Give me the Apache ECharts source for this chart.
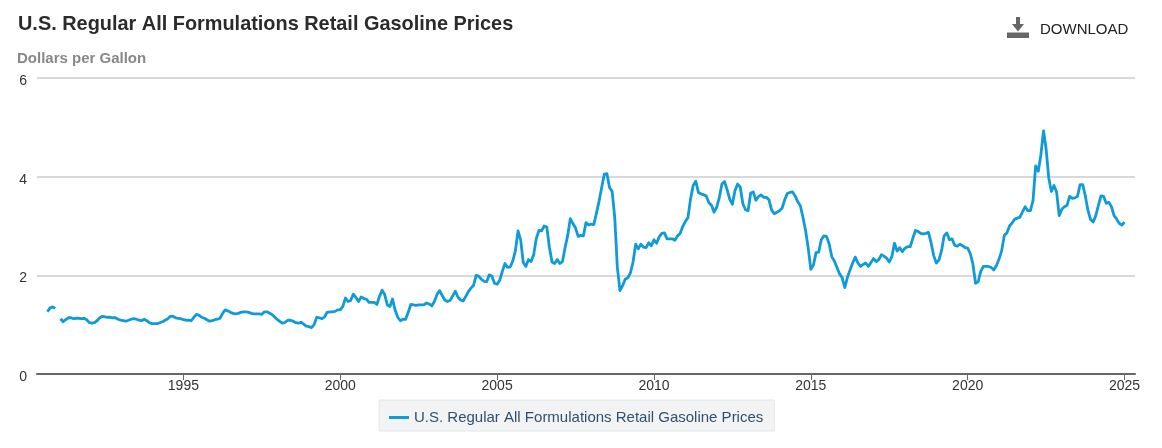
<!DOCTYPE html>
<html>
<head>
<meta charset="utf-8">
<title>U.S. Regular All Formulations Retail Gasoline Prices</title>
<script src="https://cdn.jsdelivr.net/npm/echarts@6/dist/echarts.min.js"></script>
<style>
  html, body { margin: 0; padding: 0; background: #fff; }
  #chart { width: 1162px; height: 448px; }
</style>
</head>
<body>
<div id="chart"></div>
<script>
var seriesName = 'U.S. Regular All Formulations Retail Gasoline Prices';
var unitLabel = 'Dollars per Gallon';
var yTicks = [0, 2, 4, 6];
var tickYears = ['1995', '2000', '2005', '2010', '2015', '2020', '2025'];

// monthly, first row starts at May 1990, last row runs out to May 2025
var prices = [
  null, null, null, null, 1.26, 1.34, 1.36, 1.33,
  null, 1.12, 1.06, 1.10, 1.14, 1.14, 1.12, 1.13, 1.13, 1.12, 1.13, 1.10,
  1.04, 1.03, 1.04, 1.08, 1.14, 1.17, 1.16, 1.15, 1.15, 1.14, 1.14, 1.11,
  1.09, 1.08, 1.07, 1.09, 1.11, 1.12, 1.11, 1.09, 1.08, 1.11, 1.08, 1.04,
  1.02, 1.02, 1.02, 1.04, 1.06, 1.09, 1.12, 1.17, 1.17, 1.14, 1.13, 1.12,
  1.10, 1.09, 1.09, 1.08, 1.15, 1.21, 1.19, 1.15, 1.13, 1.10, 1.07, 1.08,
  1.10, 1.11, 1.13, 1.23, 1.30, 1.28, 1.25, 1.23, 1.22, 1.23, 1.25, 1.26,
  1.26, 1.25, 1.23, 1.22, 1.22, 1.22, 1.21, 1.26, 1.26, 1.23, 1.20, 1.15,
  1.10, 1.06, 1.03, 1.05, 1.09, 1.09, 1.07, 1.04, 1.03, 1.05, 1.01, 0.97,
  0.96, 0.94, 1.00, 1.15, 1.14, 1.12, 1.16, 1.25, 1.26, 1.26, 1.27, 1.30,
  1.30, 1.37, 1.54, 1.47, 1.49, 1.62, 1.55, 1.47, 1.56, 1.53, 1.52, 1.45,
  1.45, 1.45, 1.41, 1.57, 1.70, 1.61, 1.40, 1.37, 1.52, 1.29, 1.15, 1.08,
  1.11, 1.11, 1.25, 1.41, 1.40, 1.39, 1.40, 1.40, 1.40, 1.44, 1.42, 1.38,
  1.47, 1.61, 1.69, 1.59, 1.50, 1.47, 1.49, 1.58, 1.68, 1.56, 1.50, 1.48,
  1.57, 1.67, 1.74, 1.80, 2.00, 1.98, 1.92, 1.88, 1.87, 2.01, 1.98, 1.84,
  1.82, 1.90, 2.08, 2.24, 2.16, 2.17, 2.29, 2.50, 2.90, 2.72, 2.26, 2.18,
  2.32, 2.28, 2.42, 2.75, 2.91, 2.90, 3.00, 2.98, 2.57, 2.27, 2.24, 2.32,
  2.24, 2.28, 2.56, 2.81, 3.15, 3.05, 2.96, 2.79, 2.81, 2.80, 3.07, 3.02,
  3.04, 3.03, 3.26, 3.50, 3.78, 4.05, 4.06, 3.78, 3.70, 3.17, 2.15, 1.69,
  1.79, 1.92, 1.95, 2.05, 2.27, 2.63, 2.54, 2.63, 2.57, 2.56, 2.66, 2.60,
  2.72, 2.65, 2.78, 2.85, 2.86, 2.74, 2.74, 2.74, 2.71, 2.80, 2.85, 2.99,
  3.09, 3.17, 3.55, 3.82, 3.91, 3.68, 3.65, 3.63, 3.61, 3.47, 3.42, 3.28,
  3.38, 3.58, 3.85, 3.90, 3.73, 3.54, 3.44, 3.72, 3.85, 3.79, 3.45, 3.33,
  3.31, 3.67, 3.69, 3.52, 3.60, 3.63, 3.58, 3.58, 3.53, 3.32, 3.25, 3.28,
  3.31, 3.36, 3.53, 3.66, 3.68, 3.69, 3.61, 3.49, 3.41, 3.17, 2.91, 2.55,
  2.12, 2.21, 2.46, 2.47, 2.72, 2.80, 2.79, 2.64, 2.38, 2.29, 2.16, 2.03,
  1.95, 1.75, 1.96, 2.11, 2.25, 2.37, 2.25, 2.18, 2.22, 2.25, 2.18, 2.26,
  2.34, 2.28, 2.32, 2.42, 2.39, 2.35, 2.27, 2.38, 2.65, 2.49, 2.56, 2.48,
  2.55, 2.58, 2.58, 2.75, 2.91, 2.89, 2.85, 2.84, 2.85, 2.87, 2.66, 2.40,
  2.25, 2.31, 2.50, 2.80, 2.86, 2.72, 2.74, 2.61, 2.59, 2.63, 2.60, 2.56,
  2.55, 2.44, 2.23, 1.84, 1.87, 2.08, 2.18, 2.18, 2.18, 2.16, 2.11, 2.20,
  2.33, 2.50, 2.81, 2.86, 3.00, 3.06, 3.14, 3.16, 3.18, 3.29, 3.39, 3.31,
  3.31, 3.52, 4.22, 4.11, 4.44, 4.93, 4.56, 3.98, 3.70, 3.82, 3.69, 3.21,
  3.34, 3.39, 3.42, 3.60, 3.56, 3.57, 3.60, 3.84, 3.84, 3.61, 3.32, 3.13,
  3.08, 3.21, 3.42, 3.61, 3.60, 3.46, 3.48, 3.39, 3.21, 3.14, 3.05, 3.02,
  3.08, null, null, null, null
];

var months = [];
for (var i = 0; i < prices.length; i++) {
  var m = 4 + i; // May 1990 = month index 4
  var mm = (m % 12) + 1;
  months.push((1990 + Math.floor(m / 12)) + '-' + (mm < 10 ? '0' + mm : mm));
}

function isTick(index, value) {
  return tickYears.indexOf(value.slice(0, 4)) > -1 && value.slice(5) === '01';
}

var font = '"Liberation Sans", Arial, sans-serif';
var chart = echarts.init(document.getElementById('chart'));
chart.setOption({
  animation: false,
  textStyle: { fontFamily: font },
  grid: { left: 37, right: 27, top: 78, bottom: 74 },
  title: [
    { text: seriesName, left: 18, top: 15, padding: 0,
      textStyle: { fontSize: 19.9, fontWeight: 'bold', color: '#2b2b2b', fontFamily: font } },
    { text: unitLabel, left: 17, top: 51, padding: 0,
      textStyle: { fontSize: 15, fontWeight: 'bold', color: '#888888', fontFamily: font } },
    { text: 'DOWNLOAD', left: 1040, top: 22, padding: 0,
      textStyle: { fontSize: 15, fontWeight: 'normal', color: '#222222', fontFamily: font } }
  ],
  graphic: [
    { type: 'rect', shape: { x: 1007, y: 32.5, width: 22, height: 5.5 }, style: { fill: '#666666' } },
    { type: 'polygon', shape: { points: [[1016, 17], [1020, 17], [1020, 24], [1024, 24], [1018, 31.5], [1012, 24], [1016, 24]] }, style: { fill: '#666666' } }
  ],
  legend: {
    data: [seriesName],
    left: 379, top: 400,
    icon: 'rect',
    itemWidth: 20, itemHeight: 3, itemGap: 0,
    padding: [10, 11, 6, 10],
    backgroundColor: '#f2f3f4',
    borderColor: '#e6e6e6', borderWidth: 1,
    textStyle: { fontSize: 15, color: '#2f5070', fontFamily: font }
  },
  xAxis: {
    type: 'category',
    data: months,
    boundaryGap: false,
    axisLine: { lineStyle: { color: '#666666', width: 2 } },
    axisTick: { interval: isTick, length: 6, lineStyle: { color: '#666666', width: 1 } },
    axisLabel: {
      interval: isTick,
      formatter: function (v) { return v.slice(0, 4); },
      fontSize: 14, color: '#333333', margin: 5, fontFamily: font
    },
    splitLine: { show: false }
  },
  yAxis: {
    type: 'value',
    min: yTicks[0], max: yTicks[yTicks.length - 1], interval: 2,
    axisLine: { show: false },
    axisTick: { show: false },
    axisLabel: { fontSize: 14, color: '#333333', margin: 10, verticalAlign: 'top', lineHeight: 6, fontFamily: font },
    splitLine: { lineStyle: { color: '#cccccc', width: 1.5 } }
  },
  series: [{
    name: seriesName,
    type: 'line',
    data: prices,
    showSymbol: false,
    connectNulls: false,
    itemStyle: { color: '#0f9bd7' },
    lineStyle: { color: '#0f9bd7', width: 2.8, join: 'round' }
  }]
});
</script>
</body>
</html>
